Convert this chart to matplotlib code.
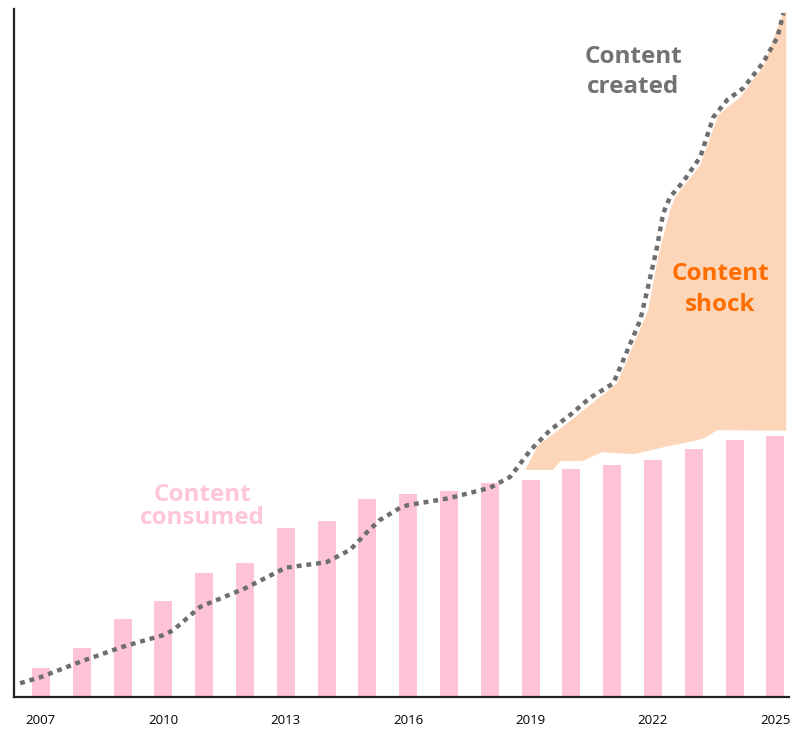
import numpy as np
import matplotlib.pyplot as plt

plt.rcParams['font.family'] = ['Open Sans', 'DejaVu Sans']

# content consumed (bars), index 0-100
years = np.arange(2007, 2026)
consumed = [4.2, 7.1, 11.3, 14.0, 18.1, 19.5, 24.6, 25.6, 28.8, 29.5,
            29.9, 31.1, 31.6, 33.1, 33.8, 34.4, 36.1, 37.3, 37.9]

# content created (dotted line)
created_x = [2006.49, 2007.0, 2008.0, 2009.0, 2010.0, 2010.24, 2010.9, 2012.0,
             2013.0, 2014.0, 2014.58, 2015.0, 2015.3, 2015.8, 2016.0, 2017.0,
             2018.0, 2018.5, 2019.0, 2019.48, 2019.97, 2020.46, 2021.03, 2021.69,
             2021.88, 2022.1, 2022.25, 2022.42, 2022.74, 2023.16, 2023.48, 2023.82,
             2024.21, 2024.7, 2025.05, 2025.2]
created_y = [2.0, 2.9, 5.2, 7.3, 9.0, 9.7, 13.1, 15.8,
             18.8, 19.6, 21.4, 24.0, 25.7, 27.5, 27.9, 28.9,
             30.4, 32.0, 35.9, 38.8, 41.0, 43.5, 45.6, 54.8,
             59.6, 65.4, 70.3, 72.7, 74.9, 78.5, 84.3, 86.8,
             88.5, 92.2, 95.9, 99.4]

# content shock area: upper and lower edges
shock_top_x = [2018.87, 2019.19, 2020.05, 2021.12, 2021.88, 2022.13, 2022.42,
               2022.55, 2023.16, 2023.6, 2024.14, 2024.7, 2025.2, 2025.27]
shock_top_y = [33.0, 36.6, 40.5, 45.6, 56.2, 64.0, 70.8,
               72.7, 77.3, 84.6, 87.2, 91.6, 99.6, 99.6]
shock_bot_x = [2018.87, 2019.55, 2019.73, 2020.27, 2020.76, 2021.52, 2022.25,
               2023.21, 2023.58, 2025.27]
shock_bot_y = [33.0, 33.0, 34.3, 34.3, 35.6, 35.3, 36.3,
               37.5, 38.8, 38.7]

tick_years = [2007, 2010, 2013, 2016, 2019, 2022, 2025]

fig = plt.figure(figsize=(8, 7.31), dpi=100)
ax = fig.add_axes([0.0175, 0.0465, 0.969, 0.941])

ax.bar(years, consumed, width=0.44, color='#FFC3D8', zorder=1)

poly_x = np.concatenate([shock_top_x, shock_bot_x[::-1]])
poly_y = np.concatenate([shock_top_y, shock_bot_y[::-1]])
ax.fill(poly_x, poly_y, color='#FDD6B9', lw=0, zorder=2)

ax.plot(created_x, created_y, color='#6E6E6E', lw=3.2,
        linestyle=(0, (1.1, 1.1)), zorder=3)

ax.text(2021.52, 90.9, 'Content\ncreated', color='#767171', fontsize=17.5,
        fontweight='bold', ha='center', va='center', linespacing=1.32)
ax.text(2023.65, 59.3, 'Content\nshock', color='#FF6D00', fontsize=17.5,
        fontweight='bold', ha='center', va='center', linespacing=1.38)
ax.text(2010.95, 27.7, 'Content\nconsumed', color='#FFC5D9', fontsize=17.5,
        fontweight='bold', ha='center', va='center', linespacing=0.98)

ax.set_xlim(2006.34, 2025.34)
ax.set_ylim(0, 100)
ax.set_xticks(tick_years)
ax.set_xticklabels([str(y) for y in tick_years], fontsize=9.5)
ax.set_yticks([])
ax.tick_params(axis='x', length=0, pad=12)

for s in ['top', 'right']:
    ax.spines[s].set_visible(False)
for s in ['left', 'bottom']:
    ax.spines[s].set_linewidth(1.6)
    ax.spines[s].set_color('#222222')

fig.savefig('out.png', dpi=100)
